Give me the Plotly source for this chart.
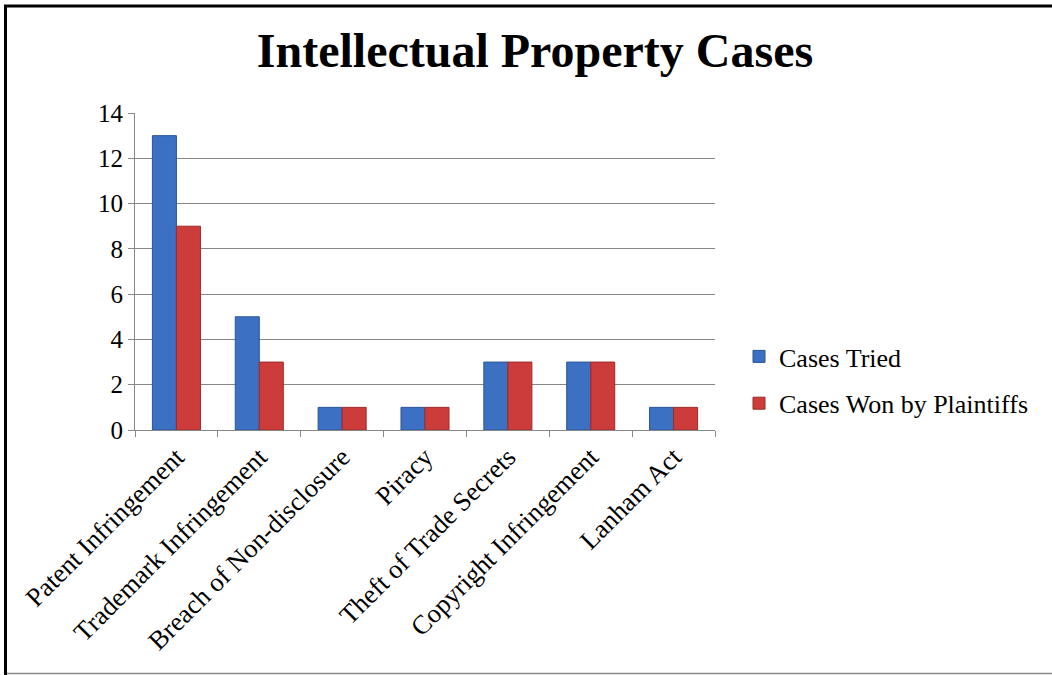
import plotly.graph_objects as go

categories = ["Patent Infringement", "Trademark Infringement", "Breach of Non-disclosure",
              "Piracy", "Theft of Trade Secrets", "Copyright Infringement", "Lanham Act"]
cases_tried = [13, 5, 1, 1, 3, 3, 1]
cases_won = [9, 3, 1, 1, 3, 3, 1]
y_ticks = [0, 2, 4, 6, 8, 10, 12, 14]

W, H = 1052, 675
L, R, T, B = 135, 715, 113, 430
SERIF = "Liberation Serif, Times New Roman, serif"

fig = go.Figure()
fig.add_trace(go.Bar(x=categories, y=cases_tried, name="Cases Tried",
                     marker=dict(color="#3b70c2", line=dict(color="#2a5598", width=1)),
                     legendgroup="a"))
fig.add_trace(go.Bar(x=categories, y=cases_won, name="Cases Won by Plaintiffs",
                     marker=dict(color="#cc3c3a", line=dict(color="#9e2a28", width=1)),
                     legendgroup="b"))

def px_x(p):
    return (p - L) / (R - L)

def px_y(p):
    return (B - p) / (B - T)

# frame: thick black top and left edges, thin grey bottom edge
fig.add_shape(type="line", xref="paper", yref="paper",
              x0=px_x(4), x1=px_x(1052), y0=px_y(6), y1=px_y(6),
              line=dict(color="black", width=3), layer="above")
fig.add_shape(type="line", xref="paper", yref="paper",
              x0=px_x(5.5), x1=px_x(5.5), y0=px_y(5), y1=px_y(675),
              line=dict(color="black", width=3), layer="above")
fig.add_shape(type="line", xref="paper", yref="paper",
              x0=px_x(7), x1=px_x(1052), y0=px_y(673.5), y1=px_y(673.5),
              line=dict(color="#888", width=1.5), layer="above")

fig.update_layout(
    width=W, height=H,
    margin=dict(l=L, r=W - R, t=T, b=H - B, pad=0),
    paper_bgcolor="white", plot_bgcolor="white",
    font=dict(family=SERIF, size=24, color="black"),
    title=dict(text="<b>Intellectual Property Cases</b>", x=535 / W, xanchor="center",
               y=1 - 50 / H, yanchor="middle",
               font=dict(size=48, family=SERIF)),
    barmode="group", bargap=0.42, bargroupgap=0,
    showlegend=True,
    legend=dict(x=px_x(739), y=px_y(380), xanchor="left", yanchor="middle",
                font=dict(size=26), tracegroupgap=10, traceorder="grouped",
                borderwidth=0, bgcolor="rgba(0,0,0,0)"),
    xaxis=dict(type="category", tickangle=-45, tickson="boundaries",
               ticks="outside", ticklen=6, tickcolor="#888", showline=True,
               linecolor="#888", linewidth=1, showgrid=False,
               tickfont=dict(size=26.5)),
    yaxis=dict(range=[0, 14], tickvals=y_ticks, ticks="outside", ticklen=6,
               tickcolor="#888", showline=True, linecolor="#888", linewidth=1,
               showgrid=True, gridcolor="#888", gridwidth=1, zeroline=False,
               tickfont=dict(size=25)),
)

fig.write_html("out.html", config={"displayModeBar": False},
               post_script="document.body.style.margin='0px';")
